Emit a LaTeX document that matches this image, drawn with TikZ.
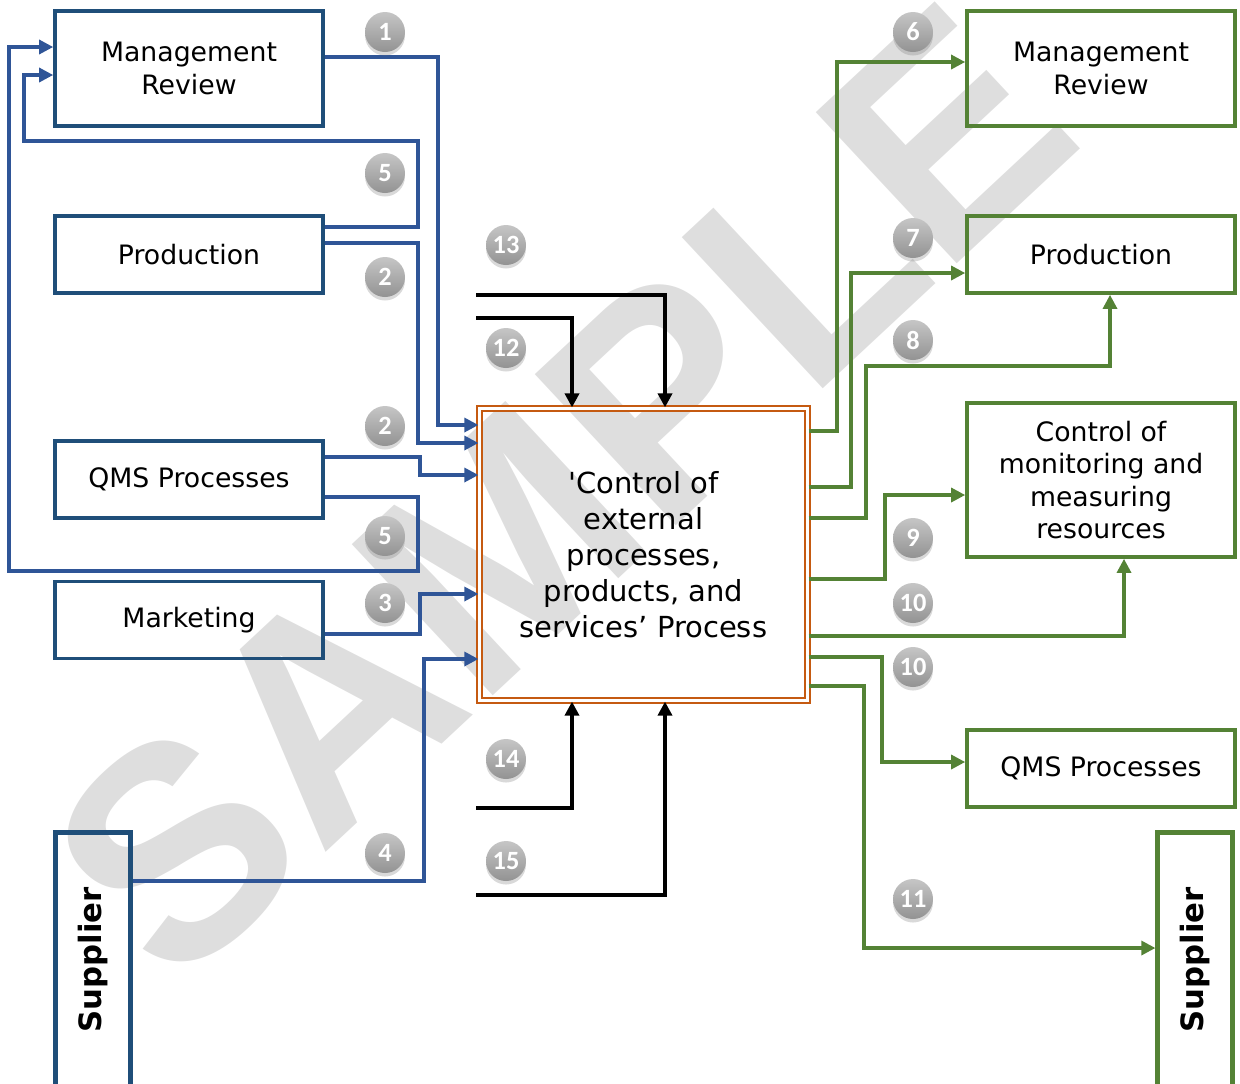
\documentclass[tikz,border=0pt]{standalone}
\usepackage{fontspec}
\setmainfont{DejaVu Sans}
\newfontfamily\badgefont{Carlito}
\newfontfamily\markfont{Liberation Sans}
\usetikzlibrary{arrows.meta,shadows}
\definecolor{inblue}{RGB}{31,78,121}
\definecolor{lineblue}{RGB}{47,85,151}
\definecolor{outgreen}{RGB}{84,130,53}
\definecolor{procorange}{RGB}{197,90,17}
\tikzset{
  >={Triangle[length=8pt,width=8pt]},
  lbox/.style={draw=inblue, line width=2.1pt, minimum width=5.36cm, inner sep=0pt,
    align=center, font=\fontsize{15.2}{18.3}\selectfont},
  rbox/.style={lbox, draw=outgreen},
  supbox/.style={rotate=90, minimum width=5.1cm, minimum height=1.5cm, line width=2.4pt,
    font=\bfseries\fontsize{17.5}{20}\selectfont},
  inarrow/.style={draw=lineblue, line width=1.8pt, ->},
  outarrow/.style={draw=outgreen, line width=1.8pt, ->},
  ctlarrow/.style={draw=black, line width=2pt, ->},
  badge/.style={circle, minimum size=0.8cm, inner sep=0pt, top color=gray!45,
    bottom color=gray!85, text=white, font=\badgefont\bfseries\fontsize{15}{15}\selectfont,
    drop shadow={opacity=0.3, shadow xshift=0pt, shadow yshift=-2pt}}
}
\begin{document}
\begin{tikzpicture}[x=0.02cm, y=-0.02cm]
  \useasboundingbox (0,0) rectangle (1240,1083);
  \node[text=black!13, rotate=43, font=\markfont\bfseries\fontsize{171}{171}\selectfont]
    (mark) at (561,492) {SAMPLE};

  \node[lbox, minimum height=2.3cm] (mrL) at (189,68.5) {Management\\Review};
  \node[lbox, minimum height=1.54cm] (prodL) at (189,254.5) {Production};
  \node[lbox, minimum height=1.54cm] (qmsL) at (189,479.5) {QMS Processes};
  \node[lbox, minimum height=1.54cm] (mkt) at (189,620) {Marketing};
  \node[lbox, supbox] (supL) at (93,960) {Supplier};

  \node[draw=procorange, double=white, double distance=1.2pt, line width=1.3pt,
    minimum width=6.56cm, minimum height=5.84cm, align=center,
    font=\fontsize{16.5}{20.4}\selectfont] (ctrl) at (643.5,554.5)
    {\textquotesingle Control of\\external\\processes,\\products, and\\services’ Process};

  \node[rbox, minimum height=2.3cm] (mrR) at (1101,68.5) {Management\\Review};
  \node[rbox, minimum height=1.54cm] (prodR) at (1101,254.5) {Production};
  \node[rbox, minimum height=3.08cm] (cmm) at (1101,480)
    {Control of\\monitoring and\\measuring\\resources};
  \node[rbox, minimum height=1.54cm] (qmsR) at (1101,768.5) {QMS Processes};
  \node[rbox, supbox] (supR) at (1195,960) {Supplier};

  \draw[inarrow] (mrL.east |- 0,57) -- (438,57) |- (ctrl.west |- 0,425);
  \draw[inarrow] (prodL.east |- 0,227) -- (418,227) |- (24,141) |- (mrL.west |- 0,75);
  \draw[inarrow] (prodL.east |- 0,243) -- (418,243) |- (ctrl.west |- 0,443);
  \draw[inarrow] (qmsL.east |- 0,457) -- (420,457) |- (ctrl.west |- 0,475);
  \draw[inarrow] (qmsL.east |- 0,497) -- (418,497) |- (9,571) |- (mrL.west |- 0,47);
  \draw[inarrow] (mkt.east |- 0,634) -- (420,634) |- (ctrl.west |- 0,594);
  \draw[inarrow] (supL.south |- 0,881) -- (424,881) |- (ctrl.west |- 0,659);

  \coordinate (src13) at (476,295);
  \coordinate (src12) at (476,318);
  \coordinate (src14) at (476,808);
  \coordinate (src15) at (476,895);
  \coordinate (colA) at (572,0);
  \coordinate (colB) at (665,0);
  \draw[ctlarrow] (src13) -| (ctrl.north -| colB);
  \draw[ctlarrow] (src12) -| (ctrl.north -| colA);
  \draw[ctlarrow] (src14) -| (ctrl.south -| colA);
  \draw[ctlarrow] (src15) -| (ctrl.south -| colB);

  \draw[outarrow] (ctrl.east |- 0,431) -- (837,431) |- (mrR.west |- 0,62);
  \draw[outarrow] (ctrl.east |- 0,487) -- (851,487) |- (prodR.west |- 0,273);
  \draw[outarrow] (ctrl.east |- 0,518) -- (866,518) |- (1110,366) -- (prodR.south -| 1110,0);
  \draw[outarrow] (ctrl.east |- 0,579) -- (885,579) |- (cmm.west |- 0,495);
  \draw[outarrow] (ctrl.east |- 0,636) -| (cmm.south -| 1124,0);
  \draw[outarrow] (ctrl.east |- 0,657) -- (882,657) |- (qmsR.west |- 0,762);
  \draw[outarrow] (ctrl.east |- 0,686) -- (864,686) |- (supR.north |- 0,948);

  \foreach \x/\y/\n [count=\k] in {385/32/1, 385/173/5, 385/277/2, 385/426/2,
      385/536/5, 385/603/3, 385/853/4, 506/245/13, 506/348/12, 506/759/14,
      506/861/15, 913/32/6, 913/238/7, 913/340/8, 913/538/9, 913/603/10,
      913/667/10, 913/899/11}
    \node[badge] (b\k) at (\x,\y) {\n};
\end{tikzpicture}
\end{document}
